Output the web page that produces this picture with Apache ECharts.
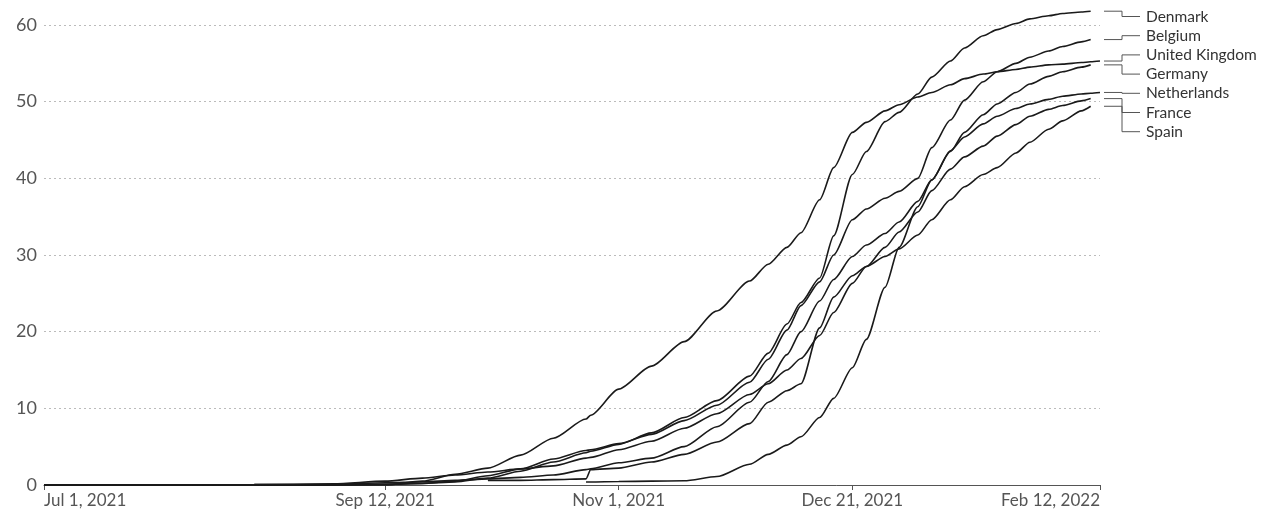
<!DOCTYPE html>
<html>
<head>
<meta charset="utf-8">
<script src="https://cdn.jsdelivr.net/npm/echarts@6/dist/echarts.min.js"></script>
<style>
html,body{margin:0;padding:0;background:#fff;}
#c{width:1263px;height:519px;}
</style>
</head>
<body>
<div id="c"></div>
<script>
// ---------- DATA ----------
const dates = ['2021-07-01','2021-07-15','2021-08-01','2021-08-15','2021-09-01','2021-09-12','2021-09-20','2021-09-27',
  '2021-10-04','2021-10-11','2021-10-18','2021-10-25','2021-10-26','2021-11-01','2021-11-08','2021-11-15','2021-11-22',
  '2021-11-29','2021-12-03','2021-12-07','2021-12-10','2021-12-14','2021-12-17','2021-12-21','2021-12-24','2021-12-28',
  '2021-12-31','2022-01-04','2022-01-07','2022-01-11','2022-01-14','2022-01-18','2022-01-21','2022-01-25','2022-01-28',
  '2022-02-01','2022-02-04','2022-02-08','2022-02-10','2022-02-12'];

const denmark = [0,0,0,0,0.02,0.1,0.2,0.4,0.9,1.8,3.0,4.2,4.4,5.3,6.8,8.8,11.0,14.2,17.2,21.0,23.8,27.0,32.5,40.5,43.5,47.4,48.6,51.0,53.2,55.3,57.0,58.6,59.4,60.2,60.8,61.2,61.5,61.7,61.8,null];
const belgium = [0,0,0,0,0.02,0.1,0.2,0.5,1.2,2.1,3.4,4.5,4.6,5.4,6.6,8.4,10.4,13.4,16.4,20.2,23.4,26.5,30.0,34.6,36.0,37.4,38.3,40.0,44.0,47.6,50.2,52.6,53.9,55.0,55.8,56.6,57.2,57.8,58.1,null];
const unitedKingdom = [0,0,0,0,0,0,0.5,1.4,2.2,3.9,6.1,8.6,9.1,12.5,15.5,18.7,22.7,26.6,28.8,31.0,32.9,37.2,41.4,46.0,47.3,48.8,49.6,50.6,51.2,52.2,53.0,53.6,53.9,54.2,54.5,54.8,54.9,55.1,55.2,55.3];
const germany = [0,0,0.02,0.05,0.1,0.3,0.4,0.6,0.8,1.0,1.3,2.0,2.1,2.9,3.5,5.0,7.6,10.8,13.5,17.0,20.0,24.0,26.8,29.8,31.3,32.8,34.3,37.0,39.8,43.5,46.0,48.3,49.7,51.2,52.3,53.3,53.9,54.5,54.8,null];
const netherlands = [null,null,null,null,null,null,null,null,null,null,null,0.4,0.4,0.45,0.5,0.55,1.1,2.7,4.0,5.2,6.3,8.8,11.3,15.3,19.0,25.8,31.0,36.3,39.8,43.6,45.4,47.1,48.1,49.1,49.7,50.3,50.7,51.0,51.1,51.2];
const france = [0,0,0.02,0.05,0.15,0.5,0.9,1.3,1.7,2.1,2.5,3.5,3.6,4.6,5.7,7.4,9.3,11.8,13.2,15.0,16.5,19.5,22.5,26.3,28.5,31.0,33.0,35.6,38.4,41.2,42.8,44.2,45.5,47.0,48.1,49.0,49.5,50.1,50.4,null];
const spain = [null,null,null,null,null,null,null,null,0.6,0.6,0.7,0.8,2.0,2.2,3.0,4.0,5.6,8.0,10.8,12.3,13.2,20.5,24.5,27.3,28.5,29.8,30.8,32.6,34.6,37.2,38.9,40.5,41.4,43.3,44.7,46.4,47.5,48.8,49.4,null];

const countries = ['Denmark','Belgium','United Kingdom','Germany','Netherlands','France','Spain'];
const seriesValues = [denmark, belgium, unitedKingdom, germany, netherlands, france, spain];

const xTickDates = ['2021-07-01','2021-09-12','2021-11-01','2021-12-21','2022-02-12'];
const xTickLabels = ['Jul 1, 2021','Sep 12, 2021','Nov 1, 2021','Dec 21, 2021','Feb 12, 2022'];
const yMin = 0, yMax = 60, yStep = 10;

// ---------- HELPERS ----------
const DAY = 86400000;
const T0 = Date.UTC(2021, 6, 1);
function dayIndex(s) {
  const p = s.split('-').map(Number);
  return Math.round((Date.UTC(p[0], p[1] - 1, p[2]) - T0) / DAY);
}
const xDays = dates.map(dayIndex);
const tickDays = xTickDates.map(dayIndex);

const seriesData = seriesValues.map(vals =>
  xDays.map((d, j) => [d, vals[j]]).filter(p => p[1] !== null && p[1] !== undefined)
);

const FONT = 'Lato, "Noto Sans", sans-serif';
const chart = echarts.init(document.getElementById('c'));

chart.setOption({
  animation: false,
  backgroundColor: '#fff',
  grid: { left: 44, right: 163, top: 25, bottom: 34, containLabel: false, outerBoundsMode: 'none' },
  xAxis: {
    type: 'value',
    min: tickDays[0],
    max: tickDays[tickDays.length - 1],
    axisLine: { show: true, onZero: false, lineStyle: { color: '#555', width: 1 } },
    axisTick: { show: true, customValues: tickDays, length: 5, lineStyle: { color: '#555' } },
    axisLabel: {
      customValues: tickDays,
      formatter: v => { const k = tickDays.indexOf(Math.round(v)); return k >= 0 ? xTickLabels[k] : ''; },
      fontFamily: FONT, fontSize: 17, color: '#555', margin: 7,
      alignMinLabel: 'left', alignMaxLabel: 'right'
    },
    splitLine: { show: false }
  },
  yAxis: {
    type: 'value', min: yMin, max: yMax, interval: yStep,
    axisLine: { show: false }, axisTick: { show: false },
    axisLabel: { fontFamily: FONT, fontSize: 18, color: '#555', margin: 7 },
    splitLine: { show: true, lineStyle: { color: '#bbb', type: [2, 3], width: 1 } }
  },
  series: countries.map((name, i) => ({
    name, type: 'line', data: seriesData[i],
    showSymbol: false, clip: false, smooth: 0.25, smoothMonotone: 'x',
    lineStyle: { color: '#1a1a1a', width: 1.6 },
    emphasis: { disabled: true }
  }))
});

// ---------- END LABELS (positions derived from data via the axes) ----------
function spread(items, gap, minY) {
  let clusters = items.map(it => ({ m: [it] }));
  const start = c => {
    const n = c.m.length;
    const mean = c.m.reduce((s, it) => s + it.y, 0) / n;
    return Math.max(minY, mean - (n - 1) * gap / 2);
  };
  let changed = true;
  while (changed) {
    changed = false;
    for (let i = 0; i < clusters.length - 1; i++) {
      const a = clusters[i], b = clusters[i + 1];
      const aEnd = start(a) + (a.m.length - 1) * gap;
      if (start(b) < aEnd + gap - 0.01) {
        a.m = a.m.concat(b.m);
        clusters.splice(i + 1, 1);
        changed = true;
        break;
      }
    }
  }
  clusters.forEach(c => { const s = start(c); c.m.forEach((it, k) => { it.ly = s + k * gap; }); });
}

const rightX = chart.convertToPixel({ gridIndex: 0 }, [tickDays[tickDays.length - 1], 0])[0];
const ends = countries.map((name, i) => {
  const last = seriesData[i][seriesData[i].length - 1];
  const px = chart.convertToPixel({ gridIndex: 0 }, last);
  return { name, y: px[1] };
}).sort((a, b) => a.y - b.y);
spread(ends, 19.2, 16.5);

const graphics = [];
ends.forEach(e => {
  const x0 = rightX + 4, xe = rightX + 22, x1 = rightX + 40;
  graphics.push({
    type: 'polyline', silent: true,
    shape: { points: [[x0, e.y], [xe, e.y], [xe, e.ly], [x1, e.ly]] },
    style: { stroke: '#555', lineWidth: 1, fill: null }
  });
  graphics.push({
    type: 'text', silent: true, x: rightX + 46, y: e.ly,
    style: { text: e.name, font: '15.5px ' + FONT, fill: '#333', align: 'left', verticalAlign: 'middle' }
  });
});
chart.setOption({ graphic: graphics });
</script>
</body>
</html>
